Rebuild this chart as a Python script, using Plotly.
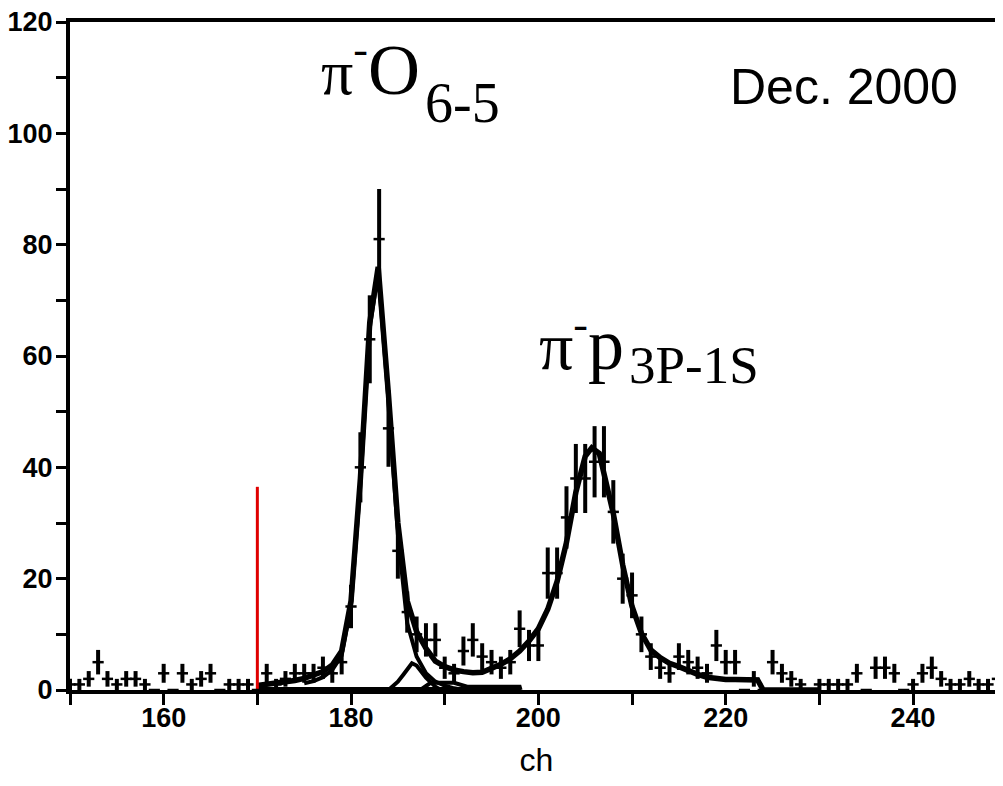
import plotly.graph_objects as go

# ---------------- data ----------------
channels = list(range(150, 250))
counts = [1, 1, 2, 5, 2, 1, 2, 2, 1, 0,
          3, 0, 3, 1, 2, 3, 0, 1, 1, 1,
          0, 3, 1, 2, 3, 3, 3, 4, 3, 5,
          15, 40, 63, 81, 47, 25, 14, 10, 9, 9,
          4, 3, 7, 9, 6, 5, 4, 5, 11, 8,
          8, 21, 21, 31, 38, 38, 41, 41, 32, 20,
          17, 10, 6, 4, 3, 6, 5, 4, 3, 8,
          5, 5, 0, 2, 0, 5, 3, 2, 1, 0,
          1, 1, 1, 1, 3, 0, 4, 4, 3, 0,
          1, 3, 4, 2, 1, 1, 2, 1, 1, 2]
errors = [1.0, 1.0, 1.4, 2.2, 1.4, 1.0, 1.4, 1.4, 1.0, 0.0,
          1.7, 0.0, 1.7, 1.0, 1.4, 1.7, 0.0, 1.0, 1.0, 1.0,
          0.0, 1.7, 1.0, 1.4, 1.7, 1.7, 1.7, 2.0, 1.7, 2.2,
          3.9, 6.3, 7.9, 9.0, 6.9, 5.0, 3.7, 3.2, 3.0, 3.0,
          2.0, 1.7, 2.6, 3.0, 2.4, 2.2, 2.0, 2.2, 3.3, 2.8,
          2.8, 4.6, 4.6, 5.6, 6.2, 6.2, 6.4, 6.4, 5.7, 4.5,
          4.1, 3.2, 2.4, 2.0, 1.7, 2.4, 2.2, 2.0, 1.7, 2.8,
          2.2, 2.2, 0.0, 1.4, 0.0, 2.2, 1.7, 1.4, 1.0, 0.0,
          1.0, 1.0, 1.0, 1.0, 1.7, 0.0, 2.0, 2.0, 1.7, 0.0,
          1.0, 1.7, 2.0, 1.4, 1.0, 1.0, 1.4, 1.0, 1.0, 1.4]

# total fit curve
fit_x = [170, 171, 172, 173, 174, 175, 176, 177, 178, 179, 180, 181, 182, 182.9,
         184, 185, 186, 187, 188, 189, 190, 191, 192, 193, 194, 195, 196, 197,
         198, 199, 200, 201, 202, 203, 204, 205, 205.7, 206.5, 207, 208, 209,
         210, 211, 212, 213, 214, 215, 216, 217, 218, 219, 220, 221, 222, 223,
         223.4, 224, 230]
fit_y = [0.8, 1.0, 1.2, 1.4, 1.7, 2.1, 2.6, 3.3, 4.5, 7.0, 16, 38, 66, 76,
         53, 30, 16, 10.5, 7.5, 5.2, 4.2, 3.6, 3.3, 3.1, 3.2, 3.8, 4.6, 5.6,
         7.0, 8.8, 11, 14.5, 19.5, 26.5, 35.5, 42, 43.5, 42.5, 39, 31.7, 22.5,
         15, 10.2, 7.2, 5.8, 4.8, 4.2, 3.4, 2.8, 2.3, 2.0, 1.9, 1.9, 1.9, 1.9,
         1.8, 0, 0]

# O(6-5) peak component
opk_x = [175, 176, 177, 178, 179, 180, 181, 182, 182.9, 184, 185, 186, 187, 188, 189, 190, 191, 192]
opk_y = [1.2, 1.6, 2.3, 3.6, 6.2, 15, 37, 65, 75, 52, 28, 12, 6, 3, 1.5, 0.8, 0.3, 0]

# small satellite component
sat_x = [184, 185, 185.6, 186.5, 187, 188, 189, 189.6]
sat_y = [0, 1.5, 2.8, 4.8, 4.4, 2.2, 0.6, 0]

# small background component
bgc_x = [187.4, 188.5, 191, 192.4, 198, 198.1]
bgc_y = [0, 1.3, 1.3, 0.6, 0.6, 0]

# zero baseline of components
base_x = [170, 198]
base_y = [0, 0]

# red marker line
red_x = [170, 170]
red_y = [0, 36.5]

x_range = [150, 249.6]
y_range = [0, 120]

# ---------------- figure ----------------
fig = go.Figure()

fig.add_trace(go.Scatter(x=base_x, y=base_y, mode="lines",
                         line=dict(color="black", width=6), hoverinfo="skip"))
fig.add_trace(go.Scatter(x=bgc_x, y=bgc_y, mode="lines",
                         line=dict(color="black", width=4), hoverinfo="skip"))
fig.add_trace(go.Scatter(x=sat_x, y=sat_y, mode="lines",
                         line=dict(color="black", width=4), hoverinfo="skip"))
fig.add_trace(go.Scatter(x=opk_x, y=opk_y, mode="lines",
                         line=dict(color="black", width=4), hoverinfo="skip"))
fig.add_trace(go.Scatter(x=fit_x, y=fit_y, mode="lines",
                         line=dict(color="black", width=5.5), hoverinfo="skip"))
fig.add_trace(go.Scatter(x=red_x, y=red_y, mode="lines",
                         line=dict(color="#e00000", width=3), hoverinfo="skip"))
fig.add_trace(go.Scatter(
    x=channels, y=counts, mode="markers",
    marker=dict(symbol="line-ew", size=8, color="black",
                line=dict(color="black", width=2.5)),
    error_y=dict(type="data", array=errors, visible=True,
                 color="black", thickness=4, width=0),
    hoverinfo="skip"))

axis_font = dict(family="Liberation Sans, Arial", size=27,
                 color="black", weight="bold")

# the page body adds an 8px offset, so the figure is 8px smaller than the window
fig.update_layout(
    width=995, height=778,
    margin=dict(l=62, r=0, t=14, b=96),
    paper_bgcolor="white", plot_bgcolor="white",
    showlegend=False,
    xaxis=dict(range=x_range, showgrid=False, zeroline=False, automargin=False,
               showline=True, linecolor="black", linewidth=4, mirror=True,
               ticks="outside", ticklen=11, tickwidth=3, tickcolor="black",
               tick0=160, dtick=20, ticklabelstandoff=-10,
               ticklabeloverflow="allow",
               minor=dict(dtick=10, tick0=150, ticks="outside", ticklen=11,
                          tickwidth=3, tickcolor="black", showgrid=False),
               tickfont=axis_font,
               title=dict(text="ch", font=dict(family="Liberation Sans, Arial",
                                               size=32, color="black"),
                          standoff=17)),
    yaxis=dict(range=y_range, showgrid=False, zeroline=False, automargin=False,
               showline=True, linecolor="black", linewidth=4, mirror=False,
               ticks="outside", ticklen=10, tickwidth=3, tickcolor="black",
               tick0=0, dtick=20, ticklabelstandoff=-2,
               ticklabeloverflow="allow",
               minor=dict(dtick=10, ticks="outside", ticklen=10, tickwidth=3,
                          tickcolor="black", showgrid=False),
               tickfont=axis_font),
)

SERIF = "Liberation Serif, Times New Roman, serif"

# pi- O (6-5)
fig.add_annotation(x=187.6, y=111.8, xref="x", yref="y", showarrow=False,
                   text="<span style='font-size:64px'>π</span>"
                        "<sup><span style='font-size:44px'>-</span></sup>O",
                   font=dict(family=SERIF, size=72, color="black"),
                   xanchor="right", yanchor="middle")
fig.add_annotation(x=187.68, y=105.5, xref="x", yref="y", showarrow=False,
                   text="6-5", font=dict(family=SERIF, size=56, color="black"),
                   xanchor="left", yanchor="middle")
# pi- p (3P-1S)
fig.add_annotation(x=209.34, y=62.4, xref="x", yref="y", showarrow=False,
                   text="<span style='font-size:68px'>π</span>"
                        "<sup><span style='font-size:44px'>-</span></sup>p",
                   font=dict(family=SERIF, size=72, color="black"),
                   xanchor="right", yanchor="middle")
fig.add_annotation(x=209.42, y=58.4, xref="x", yref="y", showarrow=False,
                   text="3P-1S", font=dict(family=SERIF, size=53, color="black"),
                   xanchor="left", yanchor="middle")

fig.add_annotation(x=232.6, y=108.4, xref="x", yref="y", showarrow=False,
                   text="Dec. 2000",
                   font=dict(family="Liberation Sans, Arial", size=50, color="black"),
                   xanchor="center", yanchor="middle")

fig.write_html("out.html")
